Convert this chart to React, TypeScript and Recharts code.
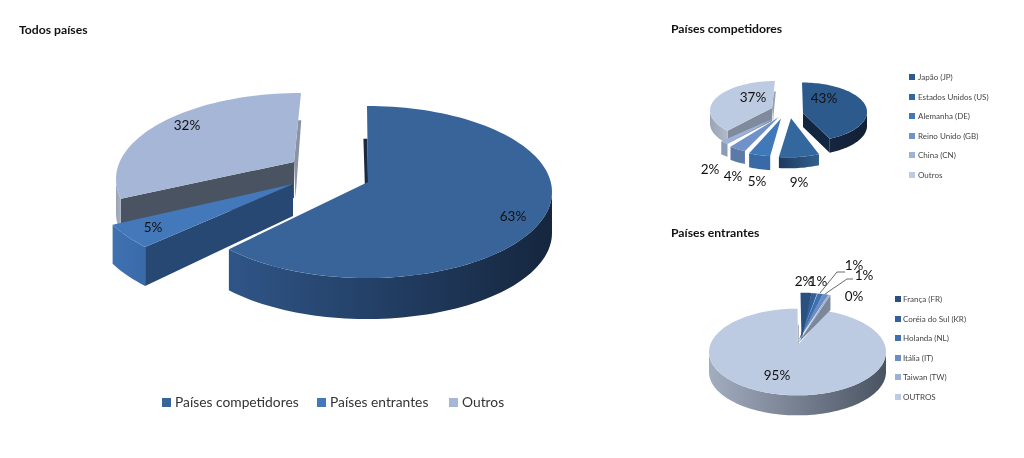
import { PieChart, Pie, Legend } from 'recharts';

// values
const totalNames = ['Países competidores', 'Países entrantes', 'Outros'];
const totalValues = [63, 5, 32];
const totalColors = ['#38649a', '#4379bb', '#a6b6d7'];

const rivalNames = ['Japão (JP)', 'Estados Unidos (US)', 'Alemanha (DE)', 'Reino Unido (GB)', 'China (CN)', 'Outros'];
const rivalValues = [43, 9, 5, 4, 2, 37];
const rivalColors = ['#2c5a8d', '#35679f', '#4079ba', '#7092c8', '#9db2d8', '#bdcbe2'];

const newNames = ['França (FR)', 'Coréia do Sul (KR)', 'Holanda (NL)', 'Itália (IT)', 'Taiwan (TW)', 'OUTROS'];
const newValues = [2, 1, 1, 1, 0.4, 94.6];
const newColors = ['#2b4f7f', '#33609a', '#3e71b2', '#6d8cc1', '#9db0d4', '#bdcbe2'];

const FONT = 'Lato, sans-serif';

type Look = {
  dx: number; dy: number; // explosion
  ax: number; ay: number; // apex nudge, the source has perspective
  ad?: number; // wall height at the apex
  dp?: number; // wall height override
  rs?: number; // radius scale
  t0?: number; t1?: number; // rim corners, perspective again
  sw?: string; ew?: string; // radial walls
  shift?: number;
  arc: [string, string];
  lx: number; ly: number; // label centre
  leader?: string;
};

const totalLooks: Look[] = [
  { dx: 0, dy: 0, ax: 1, ay: -10, t0: -1.5, dp: 41, ew: '#1a2a40', shift: -4, arc: ['#2f5587', '#15263e'], lx: 513, ly: 216 },
  { dx: -87, dy: -4, ax: 13, ay: -4, ad: 32, dp: 39, ew: '#274873', arc: ['#3f71b1', '#3a6aa8'], lx: 153, ly: 227 },
  { dx: -66, dy: -13, ax: -7, ay: -17, ad: 36, t1: -12, sw: '#8a93a3', ew: '#4a5361', shift: 3, dp: 34, arc: ['#9aa3b5', '#aab3c5'], lx: 187, ly: 125 },
];

const rivalLooks: Look[] = [
  { dx: 14, dy: 0, ax: 1, ay: 1, sw: '#132640', dp: 14, arc: ['#16263f', '#122036'], lx: 824, ly: 98 },
  { dx: 0, dy: 12.3, ax: 3, ay: -6, rs: 1.12, dp: 11, arc: ['#1e3a5f', '#33608f'], lx: 799, ly: 182 },
  { dx: -9, dy: 12.5, ax: 2, ay: -6, rs: 1.08, dp: 14, arc: ['#3a6aa5', '#3a6aa5'], lx: 757, ly: 181 },
  { dx: -14, dy: 11, ax: 5, ay: -6, rs: 1.05, arc: ['#5c7aa8', '#5c7aa8'], lx: 733, ly: 176 },
  { dx: -17, dy: 8, ax: 6, ay: -3, rs: 1.05, arc: ['#8a9cb8', '#8a9cb8'], lx: 710, ly: 169 },
  { dx: -13, dy: -1.5, ax: -3, ay: -2.5, sw: '#9aa4b5', ew: '#7f8a9c', shift: 2, arc: ['#9aa4b5', '#b0bac8'], lx: 753, ly: 97 },
];

const newLooks: Look[] = [
  { dx: 3, dy: -16, ax: 1, ay: 4, arc: ['#1e3a5f', '#1e3a5f'], lx: 804, ly: 281 },
  { dx: 3, dy: -16, ax: -1, ay: 4, arc: ['#27507f', '#27507f'], lx: 818, ly: 281 },
  { dx: 3.5, dy: -16, ax: -2, ay: 4, arc: ['#33609a', '#33609a'], lx: 854, ly: 265, leader: '820,293 837,272 845,272' },
  { dx: 3.5, dy: -16, ax: -3, ay: 5, arc: ['#5878a8', '#5878a8'], lx: 864, ly: 275, leader: '825,294 847,279 853,279' },
  { dx: 3.5, dy: -16, ax: -3, ay: 7, ad: 0, dp: 15, sw: '#7c8799', arc: ['#7c8799', '#7c8799'], lx: 854, ly: 296 },
  { dx: 0, dy: 0, ax: 0.5, ay: -7, sw: '#8a93a3', shift: 1, arc: ['#a3adc0', '#495361'], lx: 777, ly: 375 },
];

// the library only hands us the angles, the extrusion is on us
function makeWedge(id: string, squash: number, depth: number) {
  return function Wedge(props: any) {
    const { cx, cy, outerRadius, startAngle, endAngle, fill, payload, index } = props;
    const look: Look = payload.look;
    const r = outerRadius * (look.rs ?? 1);
    const a0 = startAngle + (look.t0 ?? 0);
    const a1 = endAngle + (look.t1 ?? 0);
    const h = look.dp ?? depth;
    const ox = cx + look.dx;
    const oy = cy + look.dy;
    const at = (a: number): [number, number] => [
      ox + r * Math.cos((a * Math.PI) / 180),
      oy - r * squash * Math.sin((a * Math.PI) / 180),
    ];
    const apex: [number, number] = [ox + look.ax, oy + look.ay];
    const ad = look.ad ?? h;
    const rim: [number, number][] = [];
    const n = Math.max(2, Math.ceil((a1 - a0) / 2));
    for (let i = 0; i <= n; i++) rim.push(at(a0 + ((a1 - a0) * i) / n));

    const lo = Math.max(a0, 180);
    const hi = Math.min(a1, 360);
    const front: [number, number][] = [];
    if (hi > lo) {
      const m = Math.max(2, Math.ceil((hi - lo) / 2));
      for (let i = 0; i <= m; i++) front.push(at(lo + ((hi - lo) * i) / m));
    }
    const poly = (pts: [number, number][]) => pts.map((p) => p.join(',')).join(' ');
    const radial = (a: number) => {
      const c = at(a);
      const s = look.shift ?? 0;
      if (s !== 0 && a % 360 === 90) {
        // only a sliver of the wall shows beside the top edge
        const y = c[1] + h * 0.8;
        const ex = c[0] + ((y - c[1]) / (apex[1] - c[1])) * (apex[0] - c[0]);
        return poly([[ex, y], apex, [apex[0] + s * 0.5, apex[1] + ad], [ex + s, y]]);
      }
      return poly([c, apex, [apex[0], apex[1] + ad], [c[0], c[1] + h]]);
    };
    const gid = `${id}-arc-${index}`;
    return (
      <g>
        <defs>
          <linearGradient id={gid} x1="0" y1="0" x2="1" y2="0">
            <stop offset="0%" stopColor={look.arc[0]} />
            <stop offset="100%" stopColor={look.arc[1]} />
          </linearGradient>
        </defs>
        {look.sw && <polygon points={radial(a0)} fill={look.sw} />}
        {look.ew && <polygon points={radial(a1)} fill={look.ew} />}
        {front.length > 0 && (
          <polygon
            points={poly([...front, ...[...front].reverse().map((p) => [p[0], p[1] + h] as [number, number])])}
            fill={`url(#${gid})`}
          />
        )}
        <polygon points={poly([apex, ...rim])} fill={fill} />
      </g>
    );
  };
}

function pctLabel(size: number) {
  return function PctLabel(props: any) {
    const look: Look = props.payload.look;
    return (
      <g>
        {look.leader && <polyline points={look.leader} fill="none" stroke="#444" strokeWidth={0.8} />}
        <text
          x={look.lx}
          y={look.ly}
          textAnchor="middle"
          dominantBaseline="central"
          fontFamily={FONT}
          fontSize={size}
          fill="#111"
        >
          {Math.round(props.value)}%
        </text>
      </g>
    );
  };
}

// drawn back to front, so last name first and the angles run counter-clockwise
const rows = (names: string[], values: number[], colors: string[], looks: Look[]) =>
  names.map((name, i) => ({ name, value: values[i], fill: colors[i], look: looks[i] })).reverse();

function Key({ names, colors, left, top, step, size, box, gap }: any) {
  return (
    <>
      {names.map((n: string, i: number) => (
        <div
          key={n}
          style={{
            position: 'absolute',
            left,
            top: top + i * step,
            display: 'flex',
            alignItems: 'center',
            whiteSpace: 'nowrap',
            fontFamily: FONT,
            fontSize: size,
            color: '#444',
            lineHeight: '12px',
            height: 12,
          }}
        >
          <span style={{ width: box, height: box, background: colors[i], marginRight: gap, display: 'inline-block' }} />
          {n}
        </div>
      ))}
    </>
  );
}

function Title({ left, top, children }: any) {
  return (
    <div style={{ position: 'absolute', left, top, fontFamily: FONT, fontWeight: 700, fontSize: 12.2, color: '#111', lineHeight: '14px' }}>
      {children}
    </div>
  );
}

function allLegends() {
  const main = [162, 317, 449];
  return (
    <>
      {totalNames.map((n, i) => (
        <div
          key={n}
          style={{ position: 'absolute', left: main[i], top: 394, display: 'flex', alignItems: 'center', whiteSpace: 'nowrap', fontFamily: FONT, fontSize: 13.8, color: '#333', lineHeight: '16px' }}
        >
          <span style={{ width: 9, height: 9, background: totalColors[i], marginRight: 4, display: 'inline-block' }} />
          {n}
        </div>
      ))}
      <Key names={rivalNames} colors={rivalColors} left={909} top={71} step={19.6} size={8} box={6} gap={3} />
      <Key names={newNames} colors={newColors} left={895} top={293} step={19.6} size={8} box={6} gap={2} />
    </>
  );
}

export default function App() {
  return (
    <div style={{ position: 'absolute', left: 0, top: 0, width: 1024, height: 458, background: '#fff', overflow: 'hidden', filter: 'blur(0.4px)' }}>
      <PieChart width={1024} height={458} margin={{ top: 0, right: 0, bottom: 0, left: 0 }}>
        <Pie
          data={rows(totalNames, totalValues, totalColors, totalLooks)}
          dataKey="value"
          nameKey="name"
          cx={367}
          cy={192}
          outerRadius={185}
          startAngle={90}
          endAngle={450}
          stroke="none"
          isAnimationActive={false}
          shape={makeWedge('total', 0.465, 40)}
          label={pctLabel(13.5)}
          labelLine={false}
        />
        <Pie
          data={rows(rivalNames, rivalValues, rivalColors, rivalLooks)}
          dataKey="value"
          nameKey="name"
          cx={788}
          cy={112}
          outerRadius={65}
          startAngle={90}
          endAngle={450}
          stroke="none"
          isAnimationActive={false}
          shape={makeWedge('rival', 0.454, 13)}
          label={pctLabel(13.5)}
          labelLine={false}
        />
        <Pie
          data={rows(newNames, newValues, newColors, newLooks)}
          dataKey="value"
          nameKey="name"
          cx={797.5}
          cy={352}
          outerRadius={88.5}
          startAngle={90}
          endAngle={450}
          stroke="none"
          isAnimationActive={false}
          shape={makeWedge('new', 0.49, 20)}
          label={pctLabel(13.5)}
          labelLine={false}
        />
        <Legend content={allLegends} wrapperStyle={{ left: 0, top: 0, bottom: 'auto', width: 1024 }} />
      </PieChart>
      <Title left={19} top={23}>Todos países</Title>
      <Title left={671} top={22}>Países competidores</Title>
      <Title left={671} top={226}>Países entrantes</Title>
    </div>
  );
}
